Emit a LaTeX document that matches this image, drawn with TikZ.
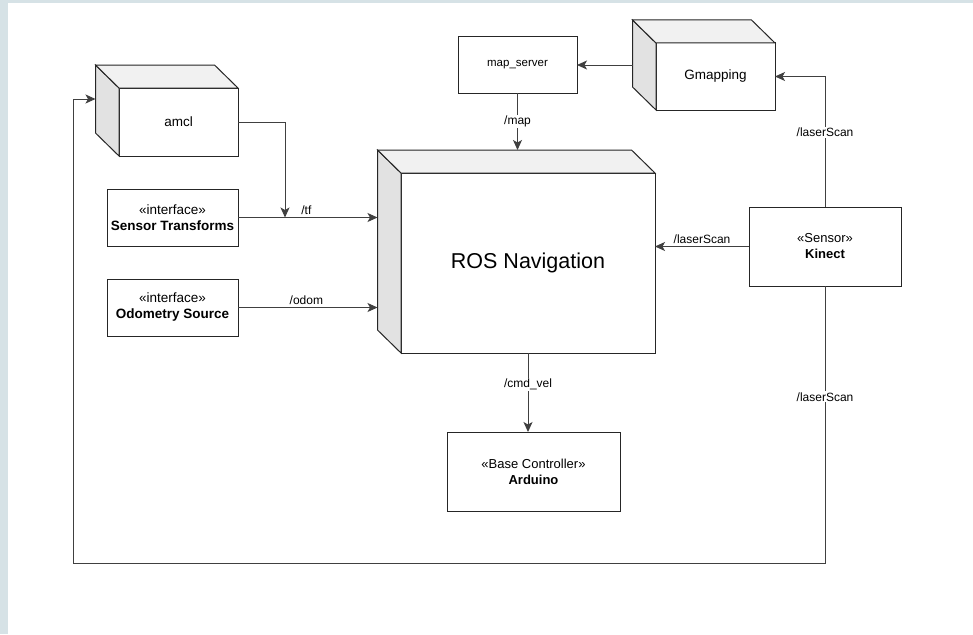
\documentclass[tikz,border=0pt]{standalone}
\usepackage{fontspec}
\setmainfont{Liberation Sans}
\usetikzlibrary{arrows.meta}
\definecolor{bandblue}{RGB}{214, 226, 230}
\definecolor{topgray}{RGB}{241, 241, 241}
\definecolor{sidegray}{RGB}{226, 226, 226}
\newcommand{\boxfont}{\fontsize{13.5}{16}\selectfont}
\newcommand{\lblfont}{\fontsize{12}{14}\selectfont}

\begin{document}
\begin{tikzpicture}[
        x=1pt, y=-1pt,
        box/.style={draw=black!85, line width=1pt, fill=white, inner sep=0pt, outer sep=0pt, align=center, font=\boxfont},
        face/.style={draw=black!85, line width=1pt},
        conn/.style={draw=black!75, line width=1pt, -{Stealth[length=10pt, width=9pt, inset=2.5pt]}},
        lbl/.style={font=\lblfont, fill=white, inner sep=1pt}
    ]

    % Canvas with the light band on the left and top
    \useasboundingbox (0, 0) rectangle (973, 634);
    \fill[bandblue] (0, 0) rectangle (973, 634);
    \fill[white] (8, 3) rectangle (973, 634);

    % Cubes (front faces; the side faces are added below)
    \node[box, minimum width=119pt, minimum height=68pt] (amcl) at (178.5, 122) {amcl};
    \node[box, minimum width=254pt, minimum height=180pt, font=\fontsize{21.5}{24}\selectfont] (ros) at (528, 263) {ROS Navigation};
    \node[box, minimum width=119pt, minimum height=67pt] (gmap) at (715.5, 76.5) {Gmapping};

    % Plain boxes
    \node[box, minimum width=119pt, minimum height=56pt, font=\fontsize{11.5}{14}\selectfont] (mapsrv) at (517.5, 65) {map\_server};
    \node[box, minimum width=131pt, minimum height=57pt] (sensortf) at (172.5, 217.5) {«interface»\\\textbf{Sensor Transforms}};
    \node[box, minimum width=131pt, minimum height=57pt] (odom) at (172.5, 307.5) {«interface»\\\textbf{Odometry Source}};
    \node[box, minimum width=152pt, minimum height=79pt, font=\fontsize{13}{16}\selectfont] (kinect) at (825, 246.5) {«Sensor»\\\textbf{Kinect}};
    \node[box, minimum width=173pt, minimum height=79pt, font=\fontsize{13}{16}\selectfont] (arduino) at (533.5, 471.5) {«Base Controller»\\\textbf{Arduino}};

    % Side and top faces of the cubes
    \foreach \c in {amcl, ros, gmap}
    {
        \draw[face, fill=sidegray] (\c.north west) -- ([shift={(-23.5pt, 23pt)}]\c.north west)
            -- ([shift={(-23.5pt, 23pt)}]\c.south west) -- (\c.south west) -- cycle;
        \draw[face, fill=topgray] (\c.north west) -- ([shift={(-23.5pt, 23pt)}]\c.north west)
            -- ([shift={(-23.5pt, 23pt)}]\c.north east) -- (\c.north east) -- cycle;
    }

    % Outer edges of the cubes, where connectors meet them
    \coordinate (amclin) at ([shift={(-23.5pt, 23pt)}]amcl.west);
    \coordinate (rosleft) at ([xshift=-23.5pt]ros.west);
    \coordinate (rostop) at ([yshift=23pt]ros.north);
    \coordinate (gmapleft) at ([xshift=-23.5pt]gmap.west);
    \coordinate (tfjoin) at (285, 217.5);

    % Topics
    \draw[conn] (kinect.north) |- node[lbl, pos=0.285] {/laserScan} (gmap.east);
    \draw[conn] (gmapleft |- mapsrv.east) -- (mapsrv.east);
    \draw[conn] (mapsrv.south) -- node[lbl] {/map} (mapsrv.south |- rostop);
    \draw[conn] (kinect.west) -- node[lbl, above=1pt, fill=none] {/laserScan} (kinect.west -| ros.east);
    \draw[conn] (amcl.east) -| (tfjoin);
    \draw[conn] (sensortf.east) -- node[lbl, above=1pt, fill=none, pos=0.49] {/tf} (sensortf.east -| rosleft);
    \draw[conn] (odom.east) -- node[lbl, above=1pt, fill=none, pos=0.49] {/odom} (odom.east -| rosleft);
    \draw[conn] (ros.south) -- node[lbl, pos=0.4] {/cmd\_vel} (ros.south |- arduino.north);

    % Kinect scan back round to amcl
    \draw[conn] (kinect.south) -- node[lbl, pos=0.4] {/laserScan} ++(0, 277) -- ++(-752, 0) |- (amclin);

\end{tikzpicture}
\end{document}
